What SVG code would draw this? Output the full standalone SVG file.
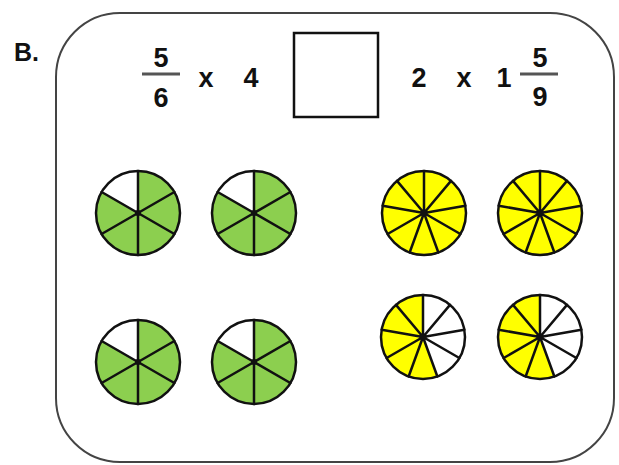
<svg xmlns="http://www.w3.org/2000/svg" xmlns:xlink="http://www.w3.org/1999/xlink" width="619" height="465" viewBox="0 0 619 465">
<style>
  .t { font-family: "Liberation Sans", Arial, sans-serif; font-weight: bold; fill: #111; }
  .d { font-size: 27px; }
  .bar { stroke: #555; stroke-width: 3; }
  .spoke { stroke: #111; stroke-width: 2.5; fill: none; stroke-linecap: round; }
  .rim { stroke: #111; stroke-width: 2.5; fill: none; }
</style>
<defs>
  <g id="green">
    <circle r="42" fill="#8ccf4f"/>
    <path d="M0,0 L0,-42 A42,42 0 0 0 -36.37,-21 Z" fill="#fff"/>
    <path class="spoke" d="M0,-42 L0,42 M36.37,-21 L-36.37,21 M36.37,21 L-36.37,-21"/>
    <circle class="rim" r="42"/>
    <circle r="3" fill="#111"/>
  </g>
  <g id="yspokes">
    <path class="spoke" d="M0,0 L0,-42 M0,0 L27,-32.17 M0,0 L41.36,-7.29 M0,0 L36.37,21 M0,0 L14.36,39.47 M0,0 L-14.36,39.47 M0,0 L-36.37,21 M0,0 L-41.36,-7.29 M0,0 L-27,-32.17"/>
    <circle class="rim" r="42"/>
    <circle r="3" fill="#111"/>
  </g>
  <g id="yfull">
    <circle r="42" fill="#ffff00"/>
    <use xlink:href="#yspokes"/>
  </g>
  <g id="ypart">
    <circle r="42" fill="#fff"/>
    <path d="M0,0 L14.36,39.47 A42,42 0 1 1 0,-42 Z" fill="#ffff00"/>
    <use xlink:href="#yspokes"/>
  </g>
</defs>

<g id="frame">
  <rect x="56" y="13" width="558" height="449" rx="64" ry="64" fill="none" stroke="#444" stroke-width="2"/>
</g>

<g id="label">
  <text class="t" x="14" y="61" font-size="25">B.</text>
</g>

<g id="left-expr">
  <text class="t d" x="161" y="67" text-anchor="middle">5</text>
  <line class="bar" x1="142" y1="74" x2="180" y2="74"/>
  <text class="t d" x="161" y="107" text-anchor="middle">6</text>
  <text class="t d" x="206" y="87" text-anchor="middle">x</text>
  <text class="t d" x="251" y="87" text-anchor="middle">4</text>
</g>

<g id="answer-box">
  <rect x="294" y="33" width="84" height="84" fill="none" stroke="#111" stroke-width="2.5"/>
</g>

<g id="right-expr">
  <text class="t d" x="419" y="87" text-anchor="middle">2</text>
  <text class="t d" x="464" y="87" text-anchor="middle">x</text>
  <text class="t d" x="504" y="87" text-anchor="middle">1</text>
  <text class="t d" x="540" y="67" text-anchor="middle">5</text>
  <line class="bar" x1="520" y1="74" x2="558" y2="74"/>
  <text class="t d" x="540" y="106" text-anchor="middle">9</text>
</g>

<g id="green-pies">
  <use xlink:href="#green" x="138" y="213"/>
  <use xlink:href="#green" x="254" y="213"/>
  <use xlink:href="#green" x="138" y="362"/>
  <use xlink:href="#green" x="254" y="362"/>
</g>

<g id="yellow-pies">
  <use xlink:href="#yfull" x="424" y="213"/>
  <use xlink:href="#yfull" x="540" y="213"/>
  <use xlink:href="#ypart" x="423" y="337"/>
  <use xlink:href="#ypart" x="540" y="337"/>
</g>

<g id="connectors"></g>
</svg>
